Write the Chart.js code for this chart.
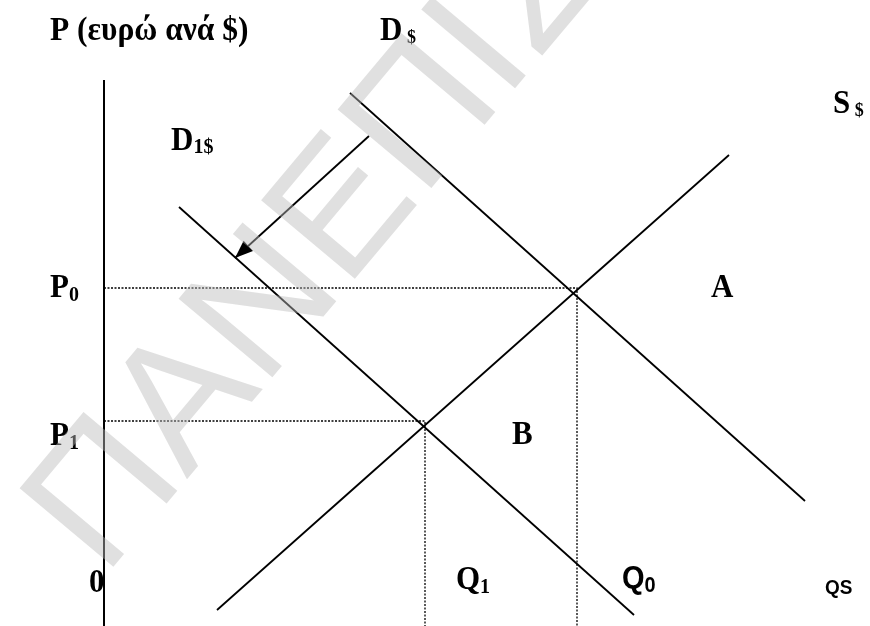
<!DOCTYPE html>
<html>
<head>
<meta charset="utf-8">
<script src="https://cdn.jsdelivr.net/npm/chart.js@4.4.0/dist/chart.umd.min.js"></script>
<style>
  html, body { margin: 0; padding: 0; background: #fff; }
  canvas { display: block; }
</style>
</head>
<body>
<canvas id="chart" width="870" height="626"></canvas>
<script>
// quantity (x) / price (y)
var demandOld = [{x: 24.6, y: 49.2}, {x: 70.1, y: 8.4}];   // D$
var demandNew = [{x: 7.5, y: 37.8}, {x: 53.0, y: -3.0}];   // D1$
var supply = [{x: 11.3, y: -2.5}, {x: 62.5, y: 43.0}];     // S$
var shiftArrow = [{x: 26.5, y: 44.9}, {x: 13.1, y: 32.7}];
var priceAxis = [{x: 0, y: -4.1}, {x: 0, y: 50.5}];

var priceTicks = [29.7, 16.4];        // P0, P1
var priceSubs = ['0', '1'];
var qtyTicks = [47.3, 32.1];          // Q0, Q1
var qtySubs = ['0', '1'];

var yBottom = -4.1;

function guide(q, p) {
    return {
        data: [{x: 0, y: p}, {x: q, y: p}, {x: q, y: yBottom}],
        borderColor: '#000', borderWidth: 1.3, borderDash: [2, 1.5],
        showLine: true, pointRadius: 0, fill: false
    };
}
function solid(pts, w) {
    return {
        data: pts, borderColor: '#000', borderWidth: w,
        showLine: true, pointRadius: 0, fill: false
    };
}

var serif = '"Liberation Serif", "Times New Roman", serif';
var sans = '"Liberation Sans", Arial, sans-serif';

// text is a touch taller than wide in the original
function label(ctx, main, sub, x, y, font, subFont, subDy) {
    ctx.save();
    ctx.translate(x, y);
    ctx.scale(1, 1.08);
    ctx.font = font;
    ctx.fillText(main, 0, 0);
    var w = ctx.measureText(main).width;
    if (sub) {
        ctx.font = subFont;
        ctx.fillText(sub, w, subDy);
    }
    ctx.restore();
}

var labelsPlugin = {
    id: 'labels',
    afterDatasetsDraw: function(chart) {
        var ctx = chart.ctx;
        var xs = chart.scales.x, ys = chart.scales.y;

        // arrow head
        var a = xs.getPixelForValue(shiftArrow[0].x), b = ys.getPixelForValue(shiftArrow[0].y);
        var tx = xs.getPixelForValue(shiftArrow[1].x), ty = ys.getPixelForValue(shiftArrow[1].y);
        var ang = Math.atan2(ty - b, tx - a);
        ctx.save();
        ctx.fillStyle = '#000';
        ctx.beginPath();
        ctx.moveTo(tx, ty);
        ctx.lineTo(tx - 18 * Math.cos(ang) + 7 * Math.sin(ang), ty - 18 * Math.sin(ang) - 7 * Math.cos(ang));
        ctx.lineTo(tx - 18 * Math.cos(ang) - 7 * Math.sin(ang), ty - 18 * Math.sin(ang) + 7 * Math.cos(ang));
        ctx.closePath();
        ctx.fill();

        ctx.textBaseline = 'alphabetic';
        var big = 'bold 31px ' + serif, small = 'bold 20px ' + serif;
        label(ctx, 'P (ευρώ ανά $)', '', 50, 40, 'bold 31.5px ' + serif);
        label(ctx, 'D', ' $', 380, 40, big, 'bold 18px ' + serif, 3);
        label(ctx, 'D', '1$', 171, 150, big, small, 3);
        label(ctx, 'S', ' $', 833, 113, big, 'bold 18px ' + serif, 3);
        label(ctx, 'A', '', 711, 297, big);
        label(ctx, 'B', '', 512, 444, big);
        label(ctx, '0', '', 89, 592, big);

        label(ctx, 'P', priceSubs[0], 50, ys.getPixelForValue(priceTicks[0]) + 9, big, small, 4);
        label(ctx, 'P', priceSubs[1], 50, ys.getPixelForValue(priceTicks[1]) + 24, big, small, 4);
        label(ctx, 'Q', qtySubs[1], xs.getPixelForValue(qtyTicks[1]) + 31, 589, big, small, 4);
        label(ctx, 'Q', qtySubs[0], xs.getPixelForValue(qtyTicks[0]) + 45, 588,
              'bold 29px ' + sans, 'bold 20px ' + sans, 4);
        label(ctx, 'QS', '', 825, 594, 'bold 19px ' + sans);

        // watermark
        ctx.translate(104, 578);
        ctx.rotate(-50 * Math.PI / 180);
        ctx.font = '178px ' + sans;
        ctx.fillStyle = 'rgba(187,187,187,0.45)';
        ctx.fillText('ΠΑΝΕΠΙΣΤΗΜΙΟ', 0, 0);
        ctx.restore();
    }
};

var ctx = document.getElementById('chart').getContext('2d');
var myChart = new Chart(ctx, {
    type: 'scatter',
    data: {
        datasets: [
            solid(priceAxis, 2),
            guide(qtyTicks[0], priceTicks[0]),
            guide(qtyTicks[1], priceTicks[1]),
            solid(demandOld, 1.8),
            solid(demandNew, 1.8),
            solid(supply, 1.8),
            solid(shiftArrow, 1.8)
        ]
    },
    options: {
        responsive: false,
        animation: false,
        layout: { padding: 0 },
        plugins: { legend: { display: false }, tooltip: { enabled: false } },
        scales: {
            x: { type: 'linear', min: -10.4, max: 76.6, display: false },
            y: { type: 'linear', min: yBottom, max: 58.5, display: false }
        }
    },
    plugins: [labelsPlugin]
});
</script>
</body>
</html>
